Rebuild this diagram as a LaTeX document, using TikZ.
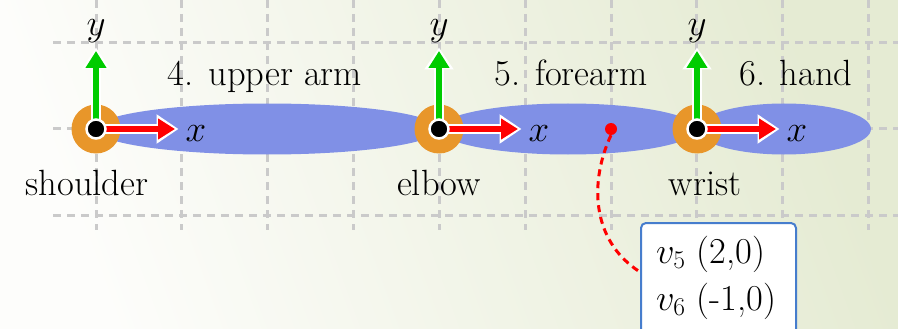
\documentclass[tikz,border=0pt]{standalone}
\usepackage{fix-cm}
\usepackage{amsmath}
\usepackage{fontspec}
\usetikzlibrary{arrows.meta,shapes.geometric}
\definecolor{limbblue}{RGB}{128,144,230}
\definecolor{jointorange}{RGB}{232,150,42}
\definecolor{axgreen}{RGB}{0,204,0}
\definecolor{axred}{RGB}{255,0,0}
\definecolor{boxblue}{RGB}{70,125,205}
\definecolor{gridgray}{RGB}{202,202,202}
\definecolor{bgleft}{RGB}{253,253,251}
\definecolor{bgright}{RGB}{229,235,211}
\begin{document}
\begin{tikzpicture}[x=1pt,y=-1pt,
  gridline/.style={gridgray, line width=3pt, dash pattern=on 8pt off 6pt},
  limb/.style={ellipse, fill=limbblue, draw=none, inner sep=0pt, minimum height=51pt},
  jointc/.style={circle, fill=jointorange, minimum size=49pt, inner sep=0pt},
  pivot/.style={circle, fill=black, draw=white, line width=2.5pt, minimum size=19pt, inner sep=0pt},
  lbl/.style={font=\rmfamily\fontsize{36.5}{44}\selectfont, inner sep=0pt, anchor=base},
  mlbl/.style={font=\rmfamily\fontsize{37}{44}\selectfont, inner sep=0pt, anchor=base},
  axwhite/.style={white, line width=10pt, shorten >=-3.5pt, -{Triangle[length=22pt,width=28pt]}},
  axgreenarrow/.style={axgreen, line width=6pt, -{Triangle[length=17pt,width=20pt]}},
  axredarrow/.style={axred, line width=6pt, -{Triangle[length=17pt,width=20pt]}},
  callout/.style={red, line width=3pt, dash pattern=on 7pt off 5pt},
  notebox/.style={draw=boxblue, line width=2pt, fill=white, rounded corners=5pt,
    minimum width=155pt, minimum height=112pt, inner sep=0pt}
]
\useasboundingbox (0,0) rectangle (898,329);
\shade[left color=bgleft, right color=bgright, shading angle=110] (0,0) rectangle (898,329);

% grid
\foreach \i in {0,...,9} {
  \draw[gridline] ({96+85.85*\i},0) -- ({96+85.85*\i},230);
}
\foreach \yy in {43,129,215} {
  \draw[gridline] (53,\yy) -- (898,\yy);
}

% limbs
\node[limb, minimum width=344pt] (upperarm) at (267,129) {};
\node[limb, minimum width=258pt] (forearm) at (568,129) {};
\node[limb, minimum width=174pt] (hand) at (784,129) {};

% joints with axes
\foreach \n/\px in {shoulder/96, elbow/439, wrist/697} {
  \node[jointc] (\n) at (\px,129) {};
  \coordinate (\n Y) at (\px,51);
  \coordinate (\n X) at (\px+79,129);
  \draw[axwhite] (\n.center) -- (\n Y);
  \draw[axwhite] (\n.center) -- (\n X);
  \draw[axgreenarrow] (\n.center) -- (\n Y);
  \draw[axredarrow] (\n.center) -- (\n X);
  \node[pivot] (\n dot) at (\px,129) {};
  \node[mlbl] (\n ylab) at (\px,36) {$y$};
  \node[mlbl] (\n xlab) at (\px+100,141) {$x$};
}

% labels
\node[lbl] (lshoulder) at (87,195) {shoulder};
\node[lbl] (lelbow) at (439,195) {elbow};
\node[lbl] (lwrist) at (705,195) {wrist};
\node[lbl] (lupper) at (265,85) {4. upper arm};
\node[lbl] (lfore) at (571,85) {5. forearm};
\node[lbl] (lhand) at (796,85) {6. hand};

% point and callout
\node[circle, fill=red, minimum size=12pt, inner sep=0pt] (vpt) at (611,129) {};
\node[notebox] (box) at (718.5,279) {};
\draw[callout] (vpt.south) .. controls (590,180) and (590,240) .. ([yshift=7pt]box.west);
\node[lbl, anchor=base west] (v5) at (656,263) {$v_{\text{5}}$ (2,0)};
\node[lbl, anchor=base west] (v6) at (656,310) {$v_{\text{6}}$ (-1,0)};
\end{tikzpicture}
\end{document}
